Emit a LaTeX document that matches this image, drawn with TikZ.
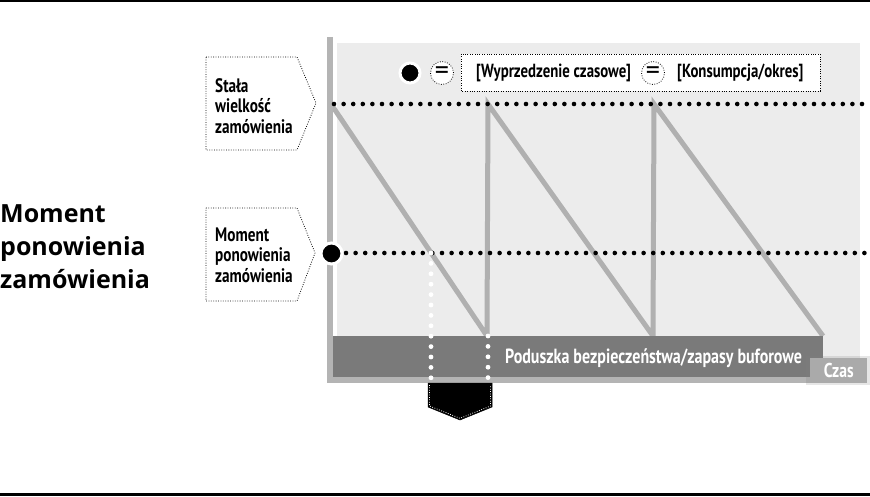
\documentclass[tikz,border=0pt]{standalone}
\usepackage{fontspec}
\setmainfont{PT Sans}
\newfontfamily\condf{PT Sans}[FakeStretch=0.78]
\newfontfamily\bigf{Open Sans}
\usetikzlibrary{shadows}
\definecolor{bglight}{HTML}{ECECEC}
\definecolor{axisgray}{HTML}{B4B4B4}
\definecolor{sawgray}{HTML}{B0B0B0}
\definecolor{bardark}{HTML}{7A7A7A}
\definecolor{czasgray}{HTML}{AAAAAA}
\tikzset{
  finedot/.style={line width=0.8pt, dash pattern=on 0.8pt off 1.6pt},
  bigdots/.style={line width=4.6pt, line cap=round, dash pattern=on 0pt off 9.6pt},
  whitedots/.style={white, line width=4.8pt, line cap=round, dash pattern=on 0pt off 10.4pt},
  boxtext/.style={font=\condf\bfseries\fontsize{19.5}{20.5}\selectfont, align=left, inner sep=0pt, anchor=north west},
  legtext/.style={font=\condf\bfseries\fontsize{19}{20}\selectfont, inner sep=0pt},
  eqcirc/.style={circle, draw, finedot, fill=white, minimum size=23pt, inner sep=0pt, font=\fontsize{28}{28}\selectfont},
  sawline/.style={draw=sawgray, line width=5pt, line join=miter},
}
\begin{document}
\begin{tikzpicture}[x=1pt,y=-1pt]
\useasboundingbox (0,0) rectangle (870,497);
% frame lines
\draw[line width=1.6pt] (0,0.8) -- (870,0.8);
\draw[line width=3.2pt] (0,494.5) -- (870,494.5);
% light background
\fill[bglight] (337,43) rectangle (860,380);
% sawtooth
\draw[sawline] (331,104) -- (487,336) -- (488,104) -- (653,336) -- (654,104) -- (823,336);
% safety stock bar
\fill[bardark] (333,336) rectangle (823,377);
\node[font=\condf\bfseries\fontsize{20.5}{20}\selectfont, text=white, anchor=west, inner sep=0pt] (safety) at (505,358) {Poduszka bezpieczeństwa/zapasy buforowe};
% axes
\draw[axisgray, line width=6pt] (330,37) -- (330,383);
\draw[axisgray, line width=6pt] (327,380) -- (860,380);
% Czas box
\node[fill=czasgray, text=white, minimum width=57pt, minimum height=25pt, inner sep=0pt, anchor=north west,
      font=\condf\bfseries\fontsize{20}{20}\selectfont,
      drop shadow={shadow xshift=0pt, shadow yshift=0pt, shadow scale=1.14, opacity=0.2}] (czas) at (810,358) {Czas};
% dotted levels
\coordinate (qtopL) at (334,104);
\coordinate (qtopR) at (868,104);
\draw[bigdots] (qtopL) -- (qtopR);
\coordinate (ropL) at (346,253);
\coordinate (ropR) at (868,253);
\draw[bigdots] (ropL) -- (ropR);
% white dotted verticals
\coordinate (v1t) at (431,253);
\coordinate (v1b) at (431,383);
\coordinate (v2t) at (488,336);
\coordinate (v2b) at (488,383);
\draw[whitedots] (v1t) -- (v1b);
\draw[whitedots] (v2t) -- (v2b);
% black arrow (lead time)
\filldraw[fill=black, draw=black, line width=0.5pt] (428,383) -- (492,383) -- (492,407) -- (460,420) -- (428,407) -- cycle;
\draw[white, finedot] (429.5,385) -- (429.5,406) -- (460,418.3) -- (490.5,406) -- (490.5,385);
% reorder point dot
\node[circle, fill=black, draw=white, line width=3pt, minimum size=21pt, inner sep=0pt,
      drop shadow={shadow xshift=0.8pt, shadow yshift=-0.8pt, opacity=0.25}] (rop) at (331.5,253.5) {};
% boxes
\draw[finedot] (206,57) -- (297,57) -- (316,103) -- (297,150) -- (206,150) -- cycle;
\node[boxtext] (qbox) at (215,78) {Stała\\wielkość\\zamówienia};
\draw[finedot] (206,208) -- (297,208) -- (315,253) -- (297,301) -- (206,301) -- cycle;
\node[boxtext] (ropbox) at (215,227.5) {Moment\\ponowienia\\zamówienia};
% big left label
\node[font=\bigf\bfseries\fontsize{25}{33}\selectfont, align=left, inner sep=0pt, anchor=north west] (bigrop) at (0,204) {Moment\\ponowienia\\zamówienia};
% legend
\fill[white] (461,54) rectangle (820,91);
\draw[finedot] (461,54) rectangle (820,91);
\node[circle, fill=black, draw=white, line width=3pt, minimum size=20pt, inner sep=0pt] (legdot) at (410,73) {};
\node[eqcirc] (eq1) at (442,73) {=};
\node[legtext, anchor=west] (lead) at (476,73) {[Wyprzedzenie czasowe]};
\node[eqcirc] (eq2) at (653,73) {=};
\node[legtext, anchor=west] (cons) at (677,73) {[Konsumpcja/okres]};
\end{tikzpicture}
\end{document}
